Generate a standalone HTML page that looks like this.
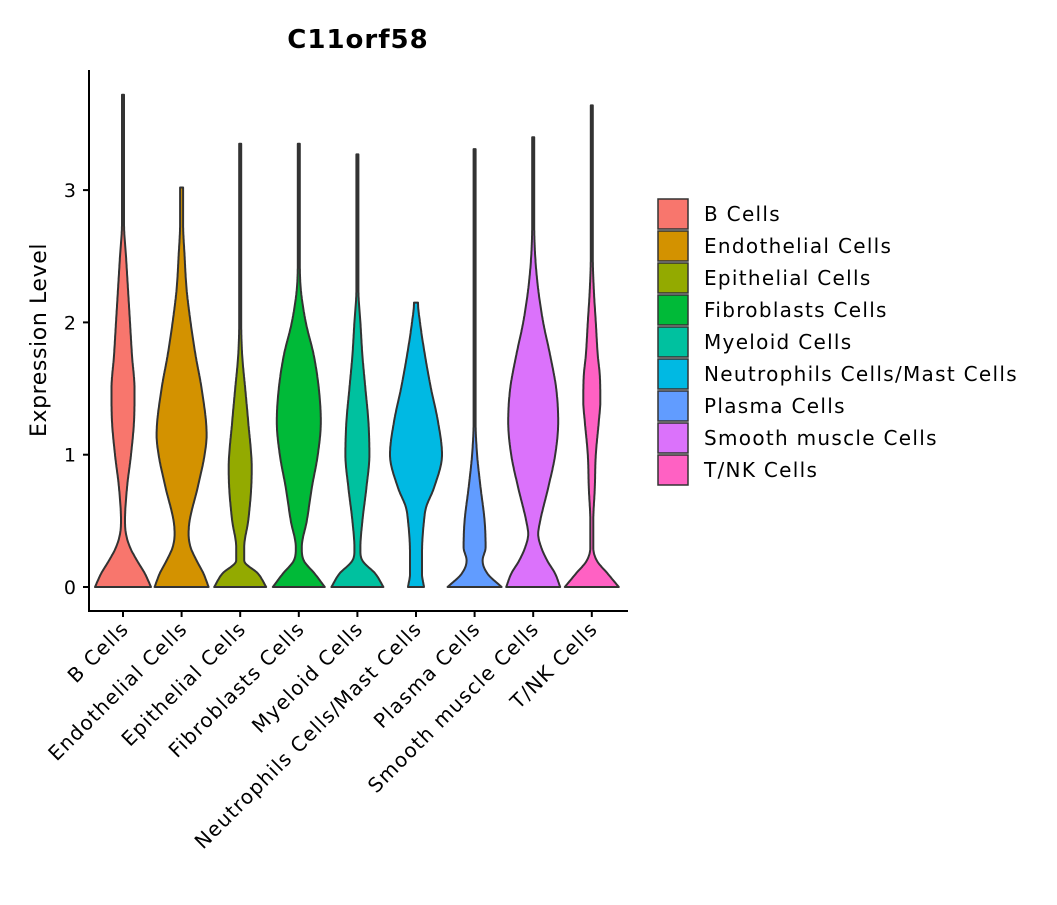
<!DOCTYPE html>
<html><head><meta charset="utf-8"><style>
body{margin:0;background:#fff}
svg{font-family:"DejaVu Sans","Liberation Sans",sans-serif}
</style></head><body>
<svg id="chart" width="1057" height="900">
<text x="358" y="48" text-anchor="middle" font-size="26" font-weight="bold" letter-spacing="1">C11orf58</text>
<text transform="translate(46,340) rotate(-90)" text-anchor="middle" font-size="22" letter-spacing="0.6">Expression Level</text>
<g id="violins"></g>
<line x1="89" y1="70" x2="89" y2="611" stroke="#000" stroke-width="2"/>
<line x1="88" y1="611" x2="628" y2="611" stroke="#000" stroke-width="2"/>
<g id="yticks"></g><g id="xticks"></g><g id="legend"></g>
</svg>
<script>
const categories=["B Cells","Endothelial Cells","Epithelial Cells","Fibroblasts Cells","Myeloid Cells","Neutrophils Cells/Mast Cells","Plasma Cells","Smooth muscle Cells","T/NK Cells"];
const colors=["#F8766D","#D39200","#93AA00","#00BA38","#00C19F","#00B9E3","#619CFF","#DB72FB","#FF61C3"];
const yTicks=[0,1,2,3];
const levels_b=[0,0.1,0.2,0.3,0.4,0.5,0.75,1,1.25,1.5,1.75,2,2.25,2.5,2.75,3.72];
const width_b=[28,22,14,7,3,2,4,8,11,11.5,9,7,5,3,1,1];
const levels_endo=[0,0.1,0.2,0.3,0.4,0.5,0.75,1,1.15,1.5,1.75,2,2.25,2.5,2.75,3.02];
const width_endo=[27,22,15,9,7,8,16,23,25,20,14,9,5,3,1.5,1.5];
const levels_epi=[0,0.1,0.2,0.3,0.5,0.75,0.9,1.25,1.5,1.75,2,3.35];
const width_epi=[26,18,4,4,8,11,11.5,8,5,2,1,1];
const levels_fib=[0,0.1,0.2,0.3,0.5,0.75,1,1.25,1.5,1.75,2,2.25,2.5,3.35];
const width_fib=[26,16,5,3,8,13,19,22,20,15,7,2,1,1];
const levels_mye=[0,0.1,0.2,0.3,0.5,0.75,1,1.25,1.5,1.75,2,2.25,3.27];
const width_mye=[26,18,5,3,5,9,12,11,8,5,3,1,1];
const levels_neu=[0,0.1,0.25,0.5,0.6,0.75,1,1.25,1.5,1.75,2,2.15];
const width_neu=[8,6,6,8,10,18,26,22,15,9,4,2];
const levels_pla=[0,0.1,0.2,0.3,0.5,0.75,1,1.25,3.31];
const width_pla=[27,13,8,11,10,6,2.5,1,1];
const levels_sm=[0,0.1,0.2,0.3,0.4,0.5,0.75,1,1.25,1.5,1.75,2,2.25,2.5,2.75,3.4];
const width_sm=[27,22,14,8,5,7,15,22,25,23,17,10,5,2,1,1];
const levels_tnk=[0,0.1,0.2,0.3,0.5,0.75,1,1.25,1.4,1.6,1.75,2,2.25,2.5,3.64];
const width_tnk=[27,16,5,1.5,1.5,3,4,7,8.5,8,6,4,2,1,1];
const allLevels=[levels_b,levels_endo,levels_epi,levels_fib,levels_mye,levels_neu,levels_pla,levels_sm,levels_tnk];
const allWidths=[width_b,width_endo,width_epi,width_fib,width_mye,width_neu,width_pla,width_sm,width_tnk];
const NS="http://www.w3.org/2000/svg";
const yScale=v=>587-v*132.3;
const xScale=i=>123+i*58.6;
function slope(lv,wd,k){
 if(k===0) return (wd[1]-wd[0])/(lv[1]-lv[0]);
 if(k===lv.length-1) return 0;
 const a=(wd[k]-wd[k-1])/(lv[k]-lv[k-1]),b=(wd[k+1]-wd[k])/(lv[k+1]-lv[k]);
 if(a*b<=0) return 0;
 return (a+b)/2;
}
function interp(lv,wd,v){
 for(let k=0;k<lv.length-1;k++){
  if(v<=lv[k+1]){
   const h=lv[k+1]-lv[k],t=(v-lv[k])/h;
   const m0=slope(lv,wd,k)*h,m1=slope(lv,wd,k+1)*h;
   const t2=t*t,t3=t2*t;
   return (2*t3-3*t2+1)*wd[k]+(t3-2*t2+t)*m0+(-2*t3+3*t2)*wd[k+1]+(t3-t2)*m1;
  }
 }
 return wd[wd.length-1];
}
const vg=document.getElementById('violins');
categories.forEach((c,i)=>{
 const lv=allLevels[i],wd=allWidths[i],cx=xScale(i),top=lv[lv.length-1];
 const right=[],left=[];
 for(let v=0;v<=top+1e-9;v+=0.01){const w=Math.max(interp(lv,wd,v),0.8);right.push([cx+w,yScale(v)]);left.push([cx-w,yScale(v)]);}
 const pts=right.concat(left.reverse());
 const p=document.createElementNS(NS,'path');
 p.setAttribute('d','M'+pts.map(q=>q[0].toFixed(1)+','+q[1].toFixed(1)).join('L')+'Z');
 p.setAttribute('fill',colors[i]);p.setAttribute('stroke','#333');p.setAttribute('stroke-width','2');p.setAttribute('stroke-linejoin','round');
 
 
 vg.appendChild(p);
});
const yt=document.getElementById('yticks');
yTicks.forEach(v=>{
 const l=document.createElementNS(NS,'line');
 l.setAttribute('x1',83);l.setAttribute('x2',89);l.setAttribute('y1',yScale(v));l.setAttribute('y2',yScale(v));l.setAttribute('stroke','#000');l.setAttribute('stroke-width','2');
 
 
 yt.appendChild(l);
 const t=document.createElementNS(NS,'text');
 t.setAttribute('x',76);t.setAttribute('y',yScale(v)+7);t.setAttribute('text-anchor','end');t.setAttribute('font-size','19');t.textContent=v;
 
 
 yt.appendChild(t);
});
const xt=document.getElementById('xticks');
categories.forEach((c,i)=>{
 const x=xScale(i);
 const l=document.createElementNS(NS,'line');
 l.setAttribute('x1',x);l.setAttribute('x2',x);l.setAttribute('y1',611);l.setAttribute('y2',617);l.setAttribute('stroke','#000');l.setAttribute('stroke-width','2');
 
 
 xt.appendChild(l);
 const t=document.createElementNS(NS,'text');
 t.setAttribute('transform','translate('+(x+7)+',630) rotate(-45)');t.setAttribute('text-anchor','end');t.setAttribute('font-size','20');t.setAttribute('letter-spacing','1.2');t.textContent=c;
 
 
 xt.appendChild(t);
});
const lg=document.getElementById('legend');
categories.forEach((c,i)=>{
 const y=199+i*32;
 const r=document.createElementNS(NS,'rect');
 r.setAttribute('x',658);r.setAttribute('y',y);r.setAttribute('width',30);r.setAttribute('height',30);r.setAttribute('fill',colors[i]);r.setAttribute('stroke','#333');r.setAttribute('stroke-width','1.5');
 
 
 lg.appendChild(r);
 const t=document.createElementNS(NS,'text');
 t.setAttribute('x',704);t.setAttribute('y',y+22);t.setAttribute('font-size','20');t.setAttribute('letter-spacing','1.3');t.textContent=c;
 
 
 lg.appendChild(t);
});
</script>
</body></html>
